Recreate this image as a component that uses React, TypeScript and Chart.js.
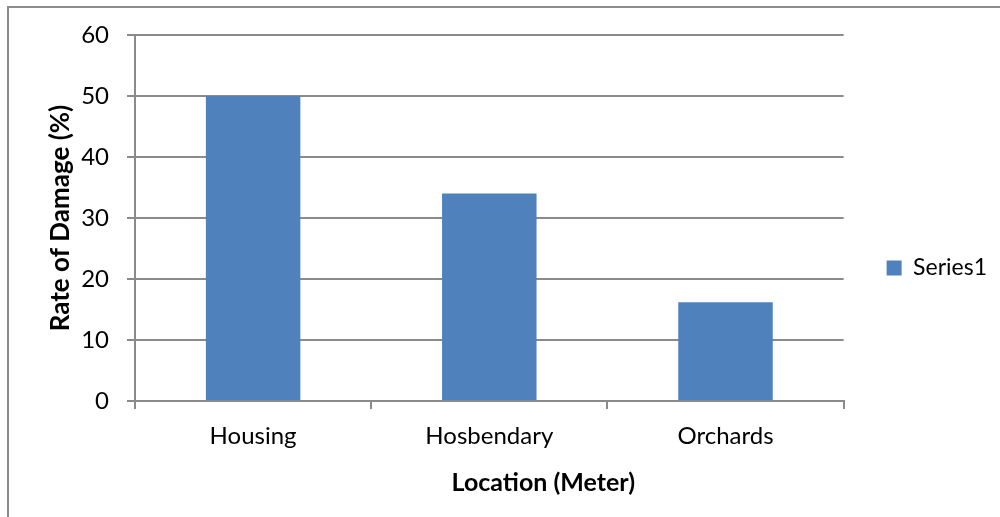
import React, { useEffect, useRef } from "react";
import { Chart, registerables } from "chart.js";

Chart.register(...registerables);

const categories = ["Housing", "Hosbendary", "Orchards"];
const seriesName = "Series1";
const seriesValues = [50, 34, 16.2];
const yTickValues = [0, 10, 20, 30, 40, 50, 60];
const yTitle = "Rate of Damage (%)";
const xTitle = "Location (Meter)";

const gridColor = "#8a8a8a";
const barColor = "#4F81BD";
const fontFamily = "Lato, 'Open Sans', sans-serif";

export default function App() {
  const ref = useRef<HTMLCanvasElement>(null);

  useEffect(() => {
    if (!ref.current) return;
    const xTitlePlugin = {
      id: "xTitleShifted",
      afterDraw(chart: any) {
        const { ctx, chartArea } = chart;
        ctx.save();
        ctx.font = `bold 25px ${fontFamily}`;
        ctx.fillStyle = "#000";
        ctx.textAlign = "center";
        ctx.textBaseline = "middle";
        ctx.fillText(
          xTitle,
          (chartArea.left + chartArea.right) / 2 + 54,
          chartArea.bottom + 82
        );
        ctx.restore();
      },
    };
    const chart = new Chart(ref.current, {
      type: "bar",
      data: {
        labels: categories,
        datasets: [
          {
            label: seriesName,
            data: seriesValues,
            backgroundColor: barColor,
            borderWidth: 0,
            categoryPercentage: 1,
            barPercentage: 0.4,
          },
        ],
      },
      options: {
        responsive: false,
        animation: false,
        layout: { padding: { left: 0, top: 27, right: 3, bottom: 16 } },
        plugins: {
          legend: {
            position: "right",
            labels: {
              boxWidth: 15,
              boxHeight: 15,
              padding: 43,
              color: "#000",
              font: { family: fontFamily, size: 23 },
            },
          },
          tooltip: { enabled: false },
        },
        scales: {
          x: {
            afterFit: (s: any) => {
              s.height = 100;
            },
            grid: {
              drawOnChartArea: false,
              drawTicks: true,
              tickLength: 8,
              color: gridColor,
              lineWidth: 2,
              offset: true,
            },
            border: { color: gridColor, width: 2 },
            ticks: {
              color: "#000",
              font: { family: fontFamily, size: 24 },
              padding: 13,
            },
          },
          y: {
            min: 0,
            max: 60,
            afterFit: (s: any) => {
              s.width = 126;
              s.paddingTop = 0;
              s.paddingBottom = 0;
            },
            afterBuildTicks: (s: any) => {
              s.ticks = yTickValues.map((v) => ({ value: v }));
            },
            grid: { color: gridColor, lineWidth: 2, tickLength: 8 },
            border: { color: gridColor, width: 2 },
            ticks: {
              color: "#000",
              font: { family: fontFamily, size: 24 },
              padding: 18,
            },
            title: {
              display: true,
              text: yTitle,
              color: "#000",
              font: { family: fontFamily, size: 26, weight: "bold" },
              padding: { top: 36, bottom: 0 },
            },
          },
        },
      },
      plugins: [xTitlePlugin],
    } as any);
    return () => chart.destroy();
  }, []);

  return (
    <div
      style={{
        position: "absolute",
        left: 7,
        top: 6,
        width: 993,
        height: 511,
        borderLeft: "2px solid #8c8c8c",
        borderTop: "2px solid #8c8c8c",
        boxSizing: "border-box",
        background: "#fff",
        overflow: "hidden",
      }}
    >
      <canvas ref={ref} width={991} height={509} style={{ display: "block" }} />
    </div>
  );
}
